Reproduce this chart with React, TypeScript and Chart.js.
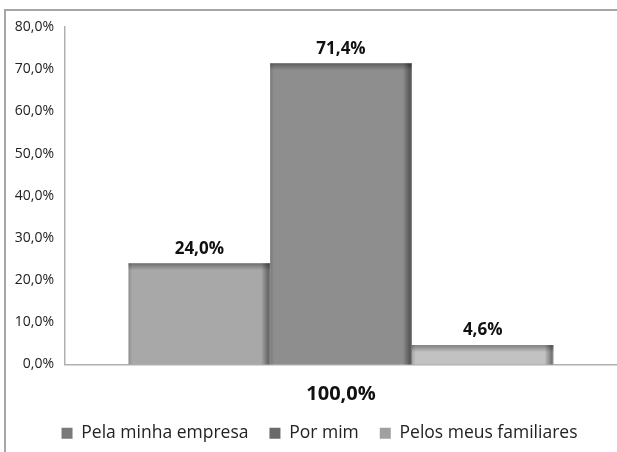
import React, { useEffect, useRef } from "react";
import { Chart, registerables } from "chart.js";

Chart.register(...registerables);

const categories = ["100,0%"];
const seriesNames = ["Pela minha empresa", "Por mim", "Pelos meus familiares"];
const seriesValues = [[24.0], [71.4], [4.6]];
const barColors = ["#a8a8a8", "#8e8e8e", "#c2c2c2"];
const legendColors = ["#7a7a7a", "#6a6a6a", "#a0a0a0"];
const yTicks = [0, 10, 20, 30, 40, 50, 60, 70, 80];

const fmt = (v: number) => v.toFixed(1).replace(".", ",") + "%";
const FONT = "'Open Sans', 'DejaVu Sans', sans-serif";

const bevelPlugin = {
  id: "bevel",
  afterDatasetsDraw(chart: any) {
    const ctx = chart.ctx;
    chart.data.datasets.forEach((ds: any, i: number) => {
      const meta = chart.getDatasetMeta(i);
      meta.data.forEach((bar: any) => {
        const { x, y, base, width } = bar.getProps(["x", "y", "base", "width"], true);
        const l = x - width / 2;
        const r = x + width / 2;
        const t = Math.min(y, base);
        const b = Math.max(y, base);
        const h = b - t;
        ctx.save();
        let g = ctx.createLinearGradient(0, t, 0, t + 7);
        g.addColorStop(0, "rgba(0,0,0,0.35)");
        g.addColorStop(1, "rgba(0,0,0,0)");
        ctx.fillStyle = g;
        ctx.fillRect(l, t, width, Math.min(7, h));
        g = ctx.createLinearGradient(r - 9, 0, r, 0);
        g.addColorStop(0, "rgba(0,0,0,0)");
        g.addColorStop(0.8, "rgba(0,0,0,0.4)");
        g.addColorStop(1, "rgba(0,0,0,0.2)");
        ctx.fillStyle = g;
        ctx.fillRect(r - 9, t, 9, h);
        g = ctx.createLinearGradient(l, 0, l + 4, 0);
        g.addColorStop(0, "rgba(0,0,0,0.15)");
        g.addColorStop(1, "rgba(0,0,0,0)");
        ctx.fillStyle = g;
        ctx.fillRect(l, t, 4, h);
        ctx.restore();
      });
    });
  },
};

const labelPlugin = {
  id: "valueLabels",
  afterDatasetsDraw(chart: any) {
    const ctx = chart.ctx;
    ctx.save();
    ctx.font = `bold 17px ${FONT}`;
    ctx.fillStyle = "#111";
    ctx.textAlign = "center";
    ctx.textBaseline = "bottom";
    chart.data.datasets.forEach((ds: any, i: number) => {
      const meta = chart.getDatasetMeta(i);
      meta.data.forEach((bar: any, j: number) => {
        ctx.fillText(fmt(ds.data[j]), bar.x, bar.y - 6);
      });
    });
    ctx.restore();
  },
};

const legendShift = {
  id: "legendShift",
  afterLayout(chart: any) {
    const lg = chart.legend;
    if (lg) {
      lg.left += 11;
      lg.right += 11;
    }
  },
};

export default function App() {
  const ref = useRef<HTMLCanvasElement>(null);
  useEffect(() => {
    const chart = new Chart(ref.current as HTMLCanvasElement, {
      type: "bar",
      data: {
        labels: categories,
        datasets: seriesNames.map((name, i) => ({
          label: name,
          data: seriesValues[i],
          backgroundColor: barColors[i],
          borderWidth: 0,
          categoryPercentage: 0.77,
          barPercentage: 1,
        })),
      },
      options: {
        animation: false,
        responsive: false,
        maintainAspectRatio: false,
        layout: { padding: { left: 0, right: 0, top: 27, bottom: 0 } },
        scales: {
          x: {
            grid: { display: false, drawTicks: false },
            border: { display: true, color: "#b0b0b0", width: 1.5 },
            ticks: {
              color: "#111",
              font: { family: FONT, size: 20, weight: "bold" },
              padding: 18,
            },
            afterFit: (s: any) => {
              s.height = 39;
            },
          },
          y: {
            min: 0,
            max: 80,
            grid: { display: false, drawTicks: false },
            border: { display: true, color: "#b0b0b0", width: 1.5 },
            afterBuildTicks: (s: any) => {
              s.ticks = yTicks.map((v) => ({ value: v }));
            },
            ticks: {
              color: "#222",
              font: { family: FONT, size: 14 },
              padding: 11,
              callback: (v: any) => fmt(Number(v)),
            },
            afterFit: (s: any) => {
              s.width = 65;
            },
          },
        },
        plugins: {
          tooltip: { enabled: false },
          legend: {
            position: "bottom",
            labels: {
              font: { family: FONT, size: 17.5 },
              color: "#222",
              boxWidth: 11,
              boxHeight: 11,
              padding: 21,
              generateLabels: (c: any) =>
                c.data.datasets.map((ds: any, i: number) => ({
                  text: ds.label,
                  fillStyle: legendColors[i],
                  strokeStyle: legendColors[i],
                  lineWidth: 0,
                  hidden: false,
                  datasetIndex: i,
                  fontColor: "#222",
                })),
            },
          },
        },
      },
      plugins: [bevelPlugin, labelPlugin, legendShift],
    } as any);
    return () => chart.destroy();
  }, []);
  return (
    <div style={{ position: "fixed", left: 0, top: 0, width: 617, height: 452, background: "#fff" }}>
      <div
        style={{
          position: "absolute",
          left: 4,
          top: 9,
          width: 640,
          height: 480,
          border: "2px solid #a6a6a6",
          boxSizing: "border-box",
        }}
      />
      <canvas ref={ref} width={617} height={452} style={{ position: "absolute", left: 0, top: 0 }} />
    </div>
  );
}
